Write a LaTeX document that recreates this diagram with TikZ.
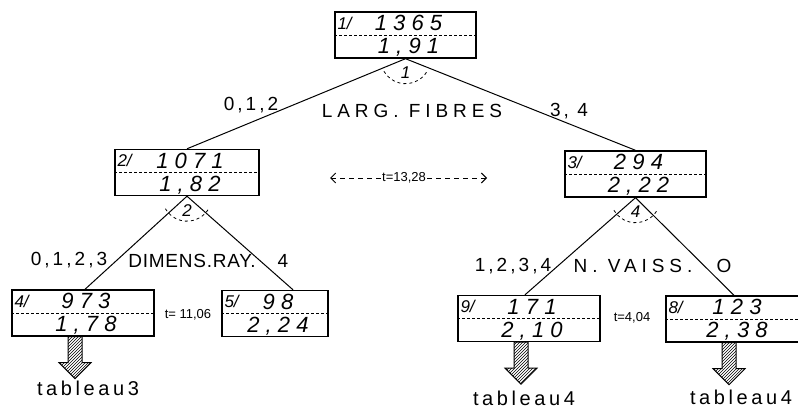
\documentclass[tikz,border=0pt]{standalone}
\usepackage{fontspec}
\setmainfont{Liberation Sans}
\usetikzlibrary{arrows.meta,patterns,positioning}
\tikzset{
  tr box/.style={draw, line width=1.4pt, minimum height=46pt, inner sep=0pt},
  tr split/.style={densely dashed, line width=0.9pt},
  tr num/.style={font=\itshape\fontsize{22}{24}\selectfont\addfontfeature{LetterSpace=28}, inner sep=0pt},
  tr id/.style={font=\itshape\fontsize{17}{18}\selectfont, inner sep=0pt},
  tr edge/.style={line width=1pt},
  tr arc/.style={dashed, line width=0.8pt},
  tr tline/.style={dash pattern=on 5pt off 4pt, line width=1pt},
  tr crit/.style={font=\fontsize{19}{20}\selectfont\addfontfeature{LetterSpace=#1}, inner sep=1pt},
  tr crit/.default=10,
  tr val/.style={font=\fontsize{19}{20}\selectfont\addfontfeature{LetterSpace=16}, inner sep=1pt},
  tr t/.style={font=\fontsize{13}{14}\selectfont, inner sep=1pt},
  tr hatch/.style={draw, line width=1pt, pattern=north east lines},
  tr tab/.style={font=\fontsize{20}{22}\selectfont\addfontfeature{LetterSpace=18}, inner sep=0pt},
}
% box with id, count (top) and mean (bottom)
\newcommand\trbox[6]{%
  \node[tr box, minimum width=#3] (#1) at (#2) {};
  \draw[tr split] ([yshift=-24pt]#1.north west) -- ([yshift=-24pt]#1.north east);
  \node[tr id, anchor=west] (#1-id) at ([xshift=3pt,yshift=-12pt]#1.north west) {#4};
  \node[tr num] (#1-n) at ([xshift=3pt,yshift=-12pt]#1.north) {#5};
  \node[tr num] (#1-m) at ([xshift=3pt,yshift=11pt]#1.south) {#6};
}
% hatched arrow below a box
\newcommand\traro[3]{%
  \draw[tr hatch] ([xshift=#2-7pt]#1.south) -- ++(0,26) -- ++(-9,0) -- ++(16,16) coordinate (#3)
    -- ++(16,-16) -- ++(-9,0) -- ++(0,-26) -- cycle;
}
\begin{document}
\begin{tikzpicture}[x=1pt,y=-1pt]
  \useasboundingbox (0,0) rectangle (798,412);

  % boxes
  \trbox{b1}{405.5,35}{141pt}{1/}{1365}{1,91}
  \trbox{b2}{187,172.5}{144pt}{2/}{1071}{1,82}
  \trbox{b3}{635.5,174}{141pt}{3/}{294}{2,22}
  \trbox{b4}{83,313}{142pt}{4/}{973}{1,78}
  \trbox{b5}{275,313.5}{106pt}{5/}{98}{2,24}
  \trbox{b9}{529,318.5}{142pt}{9/}{171}{2,10}
  \trbox{b8}{734,319}{136pt}{8/}{123}{2,38}

  % splits
  \draw[tr edge] (b1.south) -- (b2.north);
  \draw[tr edge] (b1.south) -- (b3.north);
  \draw[tr edge] (b2.south) -- ([xshift=2pt]b4.north);
  \draw[tr edge] (b2.south) -- ([xshift=18pt]b5.north);
  \draw[tr edge] (b3.south) -- ([xshift=-4pt]b9.north);
  \draw[tr edge] (b3.south) -- (b8.north);

  % split numbers in dashed arcs
  \foreach \b/\k in {b1/1,b2/2,b3/4} {
    \draw[tr arc] (\b.south) ++(150:25) arc (150:30:25);
    \node[tr id] (\b-k) at ([yshift=-14pt]\b.south) {\k};
  }

  % criteria and values
  \node[tr val] (v1) at (251,105) {0,1,2};
  \node[tr crit=26] (c1) at (412,111) {LARG. FIBRES};
  \node[tr val] (v2) at (569,111) {3, 4};
  \node[tr val] (v3) at (69,260) {0,1,2,3};
  \node[tr crit=4] (c2) at (192,261) {DIMENS.RAY.};
  \node[tr val] (v4) at (283,261) {4};
  \node[tr val] (v5) at (513,266) {1,2,3,4};
  \node[tr crit=26] (c3) at (633,266) {N. VAISS.};
  \node[tr val] (v6) at (724,266) {O};

  % t values
  \node[tr t] (t1) at (404,178) {t=13,28};
  \coordinate (t1l) at (330,178);
  \coordinate (t1r) at (487,178);
  \draw[tr tline, -{Straight Barb[length=5pt]}] (t1.west) -- (t1l);
  \draw[tr tline, -{Straight Barb[length=5pt]}] (t1.east) -- (t1r);
  \node[tr t] (t2) at (188,315) {t= 11,06};
  \node[tr t] (t3) at (632,318) {t=4,04};

  % hatched arrows to tables
  \traro{b4}{-8pt}{tip4}
  \traro{b9}{-8pt}{tip9}
  \traro{b8}{-5pt}{tip8}
  \node[tr tab, below=2pt of tip4, xshift=13pt] (tab3) {tableau3};
  \node[tr tab, below=7pt of tip9, xshift=3pt] (tab4) {tableau4};
  \node[tr tab, below=5pt of tip8, xshift=12pt] (tab5) {tableau4};
\end{tikzpicture}
\end{document}
